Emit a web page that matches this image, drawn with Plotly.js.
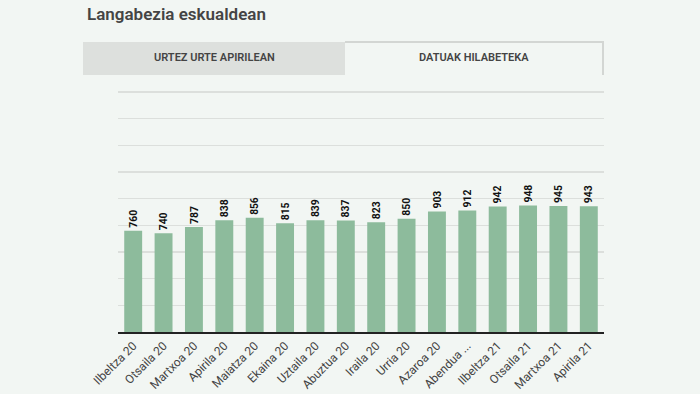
<!DOCTYPE html>
<html>
<head>
<meta charset="utf-8">
<script src="https://cdn.plot.ly/plotly-3.0.1.min.js"></script>
<style>
html,body{margin:0;padding:0;background:#f2f6f3;}
#chart{width:700px;height:394px;}
</style>
</head>
<body>
<div id="chart"></div>
<script>
const months = ["Ilbeltza 20","Otsaila 20","Martxoa 20","Apirila 20","Maiatza 20","Ekaina 20","Uztaila 20","Abuztua 20","Iraila 20","Urria 20","Azaroa 20","Abendua ...","Ilbeltza 21","Otsaila 21","Martxoa 21","Apirila 21"];
const unemployed = [760,740,787,838,856,815,839,837,823,850,903,912,942,948,945,943];
const gridValues = [0,200,400,600,800,1000,1200,1400,1600,1800];
const chartTitle = "Langabezia eskualdean";
const tabLabels = ["URTEZ URTE APIRILEAN","DATUAK HILABETEKA"];

const H = 394, T = 88, B = 62, L = 118, R = 96;
const PH = H - T - B, PW = 700 - L - R;
const px = (x) => (x - L) / PW;
const py = (y) => (H - B - y) / PH;

const trace = {
  type: "bar",
  x: months,
  y: unemployed,
  marker: {color: "#8dbb9c"},
  text: unemployed.map(String),
  textposition: "outside",
  textangle: -90,
  cliponaxis: false,
  textfont: {family: "Roboto, Arial, sans-serif", size: 13, color: "#111", weight: 700},
  hoverinfo: "none"
};

const layout = {
  width: 700, height: H,
  paper_bgcolor: "#f2f6f3",
  plot_bgcolor: "#f2f6f3",
  margin: {l: L, r: R, t: T, b: B},
  bargap: 0.41,
  showlegend: false,
  xaxis: {
    type: "category",
    tickangle: -45,
    tickfont: {family: "Roboto, Arial, sans-serif", size: 12, color: "#444"},
    showline: true, linecolor: "#222", linewidth: 2,
    ticks: "", showgrid: false, automargin: false
  },
  yaxis: {
    range: [0, 1830],
    tickmode: "array",
    tickvals: gridValues,
    showticklabels: false,
    gridcolor: "#dcdfdc", gridwidth: 1.5,
    zeroline: false, ticks: ""
  },
  shapes: [
    {type: "rect", xref: "paper", yref: "paper", x0: px(83), x1: px(345), y0: py(75), y1: py(42), fillcolor: "#dde0dd", line: {width: 0}, layer: "below"},
    {type: "path", xref: "paper", yref: "paper",
     path: "M " + px(345) + " " + py(42) + " L " + px(603) + " " + py(42) + " L " + px(603) + " " + py(75),
     line: {color: "#d3d6d3", width: 2}}
  ],
  annotations: [
    {text: chartTitle, xref: "paper", yref: "paper", x: px(85), y: py(14), xanchor: "left", yanchor: "middle", showarrow: false,
     font: {family: "Roboto, Arial, sans-serif", size: 17, color: "#444", weight: 600}},
    {text: tabLabels[0], xref: "paper", yref: "paper", x: px(214), y: py(58), xanchor: "center", yanchor: "middle", showarrow: false,
     font: {family: "Roboto, Arial, sans-serif", size: 11, color: "#444", weight: 600}},
    {text: tabLabels[1], xref: "paper", yref: "paper", x: px(474), y: py(58), xanchor: "center", yanchor: "middle", showarrow: false,
     font: {family: "Roboto, Arial, sans-serif", size: 11, color: "#444", weight: 600}}
  ]
};

Plotly.newPlot("chart", [trace], layout, {displayModeBar: false, staticPlot: true});
</script>
</body>
</html>
